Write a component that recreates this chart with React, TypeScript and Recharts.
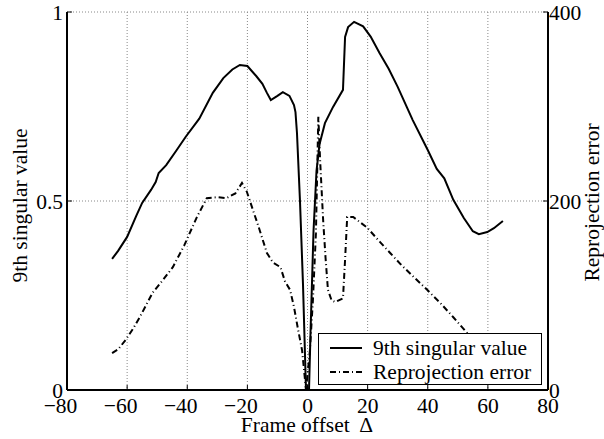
import { CartesianGrid, Legend, Line, LineChart, XAxis, YAxis } from "recharts";

const FONT = '"Liberation Serif", "Times New Roman", serif';
const textStyle = { fontFamily: FONT, fontSize: 21.5 };

const xTicks = [-80, -60, -40, -20, 0, 20, 40, 60, 80];
const leftTicks = [0, 0.5, 1];
const rightTicks = [0, 200, 400];

// 9th singular value (left axis)
const singularX = [
  -65, -63, -60, -57, -55, -52, -50.5, -49.5, -47, -43.5, -40.5, -36, -31.5, -28, -25, -22.5,
  -20, -17, -15, -13.5, -12.2, -10, -8.2, -6, -4.5, -4, -3.5, -2.5, -1.5, -0.5, 0.5, 1, 2,
  3, 4, 5.8, 8.5, 11.8, 12.5, 13.5, 15.5, 18.5, 21, 24, 27, 30, 35, 40, 43, 45.5, 48.5, 52,
  55, 57, 59.8, 62, 65,
];
const singularY = [
  0.347, 0.368, 0.405, 0.46, 0.495, 0.53, 0.55, 0.574, 0.595, 0.635, 0.67, 0.718, 0.786, 0.825,
  0.848, 0.86, 0.857, 0.83, 0.81, 0.786, 0.767, 0.778, 0.788, 0.778, 0.754, 0.735, 0.68, 0.5,
  0.28, 0, 0, 0.15, 0.42, 0.58, 0.65, 0.706, 0.749, 0.794, 0.934, 0.96, 0.974, 0.962, 0.935,
  0.891, 0.85, 0.802, 0.714, 0.635, 0.585, 0.56, 0.503, 0.455, 0.42, 0.412, 0.418, 0.428, 0.447,
];

// reprojection error (right axis)
const errorX = [
  -65, -63, -60.5, -58, -55.8, -51.5, -48.2, -44.8, -41, -36.8, -33.5, -30, -27, -24, -21.8,
  -20.2, -16.2, -13.5, -11.5, -9, -7.5, -5.8, -4.5, -3.2, -1.8, -0.5, 0.8, 1.8, 2.8, 3.6, 4.2,
  5.2, 6, 6.8, 8, 9.2, 11.8, 12.5, 13.2, 15.2, 19.8, 24, 27.5, 31, 35.2, 39.8, 44.2, 48.5, 53.2,
  57, 61, 65,
];
const errorY = [
  39, 43, 53, 65, 77, 103, 116, 130, 153, 183, 203, 204, 203, 208, 219, 210, 172, 145, 135, 130,
  115, 106, 88, 65, 42, 0, 42, 95, 166, 289, 243, 180, 140, 106, 95, 93, 97, 138, 183, 183, 172,
  157, 145, 133, 120, 106, 92, 77, 60, 48, 38, 28,
];

const singularData = singularX.map((x, i) => ({ x, value: singularY[i] }));
const errorData = errorX.map((x, i) => ({ x, value: errorY[i] }));

const SERIES = [
  { key: "sv", name: "9th singular value", data: singularData, axis: "left", dash: undefined },
  { key: "err", name: "Reprojection error", data: errorData, axis: "right", dash: "6 3 1 3" },
];

const fmt = (v: number) => (v < 0 ? `\u2212${Math.abs(v)}` : `${v}`);

// minus sign hangs to the left, digits stay centred on the tick
const XTick = ({ x, y, payload }: any) => (
  <text
    x={x}
    y={y}
    dy="0.71em"
    dx={payload.value < 0 ? -6.5 : 0}
    textAnchor="middle"
    style={textStyle}
    fill="#000"
  >
    {fmt(payload.value)}
  </text>
);

const YTick = ({ x, y, payload, textAnchor }: any) => (
  <text x={x} y={y} dy="0.35em" textAnchor={textAnchor} style={textStyle} fill="#000">
    {payload.value}
  </text>
);

const title =
  (text: string, dx: number, dy: number, angle = 0) =>
  ({ viewBox }: any) => {
    const x = viewBox.x + dx;
    const y = viewBox.y + dy;
    return (
      <text
        x={x}
        y={y}
        textAnchor="middle"
        transform={angle ? `rotate(${angle} ${x} ${y})` : undefined}
        style={textStyle}
        fill="#000"
      >
        {text}
      </text>
    );
  };

const renderLegend = () => (
  <div
    style={{
      boxSizing: "border-box",
      width: 224,
      height: 52,
      border: "1px solid #000",
      background: "#fff",
      fontFamily: FONT,
      fontSize: 21.5,
      padding: "2px 0 0 11px",
    }}
  >
    {SERIES.map((s) => (
      <div key={s.key} style={{ display: "flex", alignItems: "center", height: 24, lineHeight: "24px" }}>
        <svg width={32} height={10} style={{ marginRight: 11, flexShrink: 0 }}>
          <line x1={0} y1={5} x2={32} y2={5} stroke="#000" strokeWidth={2} strokeDasharray={s.dash} />
        </svg>
        <span style={{ whiteSpace: "nowrap" }}>{s.name}</span>
      </div>
    ))}
  </div>
);

const axisStroke = { stroke: "#000", strokeWidth: 2 };
const tickStroke = { stroke: "#000", strokeWidth: 1 };

export default function App() {
  return (
    <div style={{ position: "absolute", left: 0, top: 0, background: "#fff" }}>
      <LineChart width={604} height={439} margin={{ top: 12, right: 0, bottom: 0, left: 0 }}>
        <CartesianGrid stroke="#888" strokeDasharray="1 2" yAxisId="left" />
        <XAxis
          dataKey="x"
          type="number"
          domain={[-80, 80]}
          ticks={xTicks}
          allowDataOverflow
          height={49}
          axisLine={axisStroke}
          tickLine={tickStroke}
          tickSize={-5}
          tickMargin={13}
          tick={<XTick />}
          label={{ content: title("Frame offset \u2009\u0394", 240, 42) }}
        />
        <XAxis
          xAxisId="top"
          dataKey="x"
          type="number"
          orientation="top"
          domain={[-80, 80]}
          ticks={xTicks}
          allowDataOverflow
          height={0}
          axisLine={axisStroke}
          tickLine={tickStroke}
          tickSize={-5}
          tick={() => <g />}
        />
        <YAxis
          yAxisId="left"
          type="number"
          domain={[0, 1]}
          ticks={leftTicks}
          width={67}
          axisLine={axisStroke}
          tickLine={tickStroke}
          tickSize={-5}
          tickMargin={9}
          tick={<YTick />}
          label={{ content: title("9th singular value", 27, 193.5, -90) }}
        />
        <YAxis
          yAxisId="right"
          orientation="right"
          type="number"
          domain={[0, 400]}
          ticks={rightTicks}
          width={56}
          axisLine={axisStroke}
          tickLine={tickStroke}
          tickSize={-5}
          tickMargin={6}
          tick={<YTick />}
          label={{ content: title("Reprojection error", 51, 190.5, -90) }}
        />
        {SERIES.map((s) => (
          <Line
            key={s.key}
            data={s.data}
            dataKey="value"
            name={s.name}
            yAxisId={s.axis}
            type="linear"
            stroke="#000"
            strokeWidth={2}
            strokeDasharray={s.dash}
            dot={false}
            activeDot={false}
            isAnimationActive={false}
          />
        ))}
        <Legend
          layout="horizontal"
          verticalAlign="middle"
          align="center"
          content={renderLegend}
          wrapperStyle={{ left: 318, top: 333, width: 224, height: 52 }}
        />
      </LineChart>
    </div>
  );
}
